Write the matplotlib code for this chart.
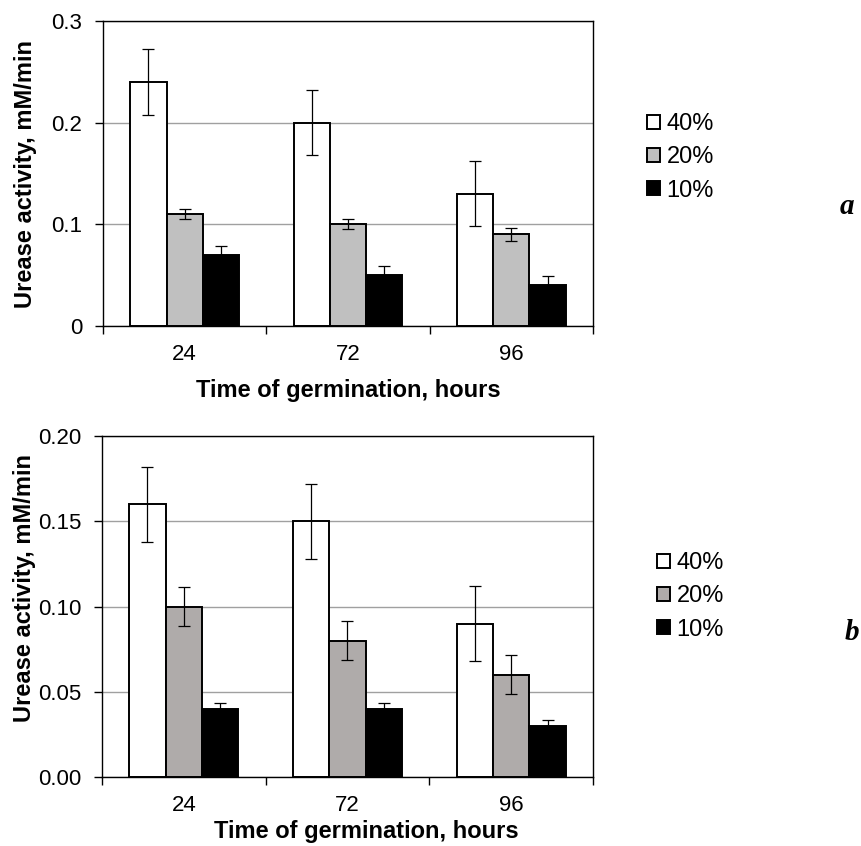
import matplotlib
matplotlib.use('Agg')
import matplotlib.pyplot as plt
import numpy as np

plt.rcParams['font.family'] = ['Liberation Sans', 'DejaVu Sans']

hours = ['24', '72', '96']
series = ['40%', '20%', '10%']

# panel a
a_vals = {'40%': [0.24, 0.20, 0.13],
          '20%': [0.11, 0.10, 0.09],
          '10%': [0.07, 0.05, 0.04]}
a_err = {'40%': [0.032, 0.032, 0.032],
         '20%': [0.005, 0.005, 0.006],
         '10%': [0.009, 0.009, 0.009]}

# panel b
b_vals = {'40%': [0.16, 0.15, 0.09],
          '20%': [0.10, 0.08, 0.06],
          '10%': [0.04, 0.04, 0.03]}
b_err = {'40%': [0.022, 0.022, 0.022],
         '20%': [0.0115, 0.0114, 0.0114],
         '10%': [0.0034, 0.0034, 0.0035]}

a_yticks = [0, 0.1, 0.2, 0.3]
a_ytick_labels = ['0', '0.1', '0.2', '0.3']
b_yticks = [0, 0.05, 0.10, 0.15, 0.20]
b_ytick_labels = ['0.00', '0.05', '0.10', '0.15', '0.20']

W, H = 862, 846
fig = plt.figure(figsize=(W / 100, H / 100), dpi=100)


def panel(rect, vals, errs, colors, yticks, ylabels, ylab_y, xlab_x, xlab_y, leg_xy, letter, letter_xy):
    ax = fig.add_axes(rect)
    x = np.arange(len(hours))
    w = 0.222
    for i, s in enumerate(series):
        ax.bar(x + (i - 1) * w, vals[s], w, color=colors[i], edgecolor='black',
               linewidth=1.4, label=s, zorder=2)
        ax.errorbar(x + (i - 1) * w, vals[s], yerr=errs[s], fmt='none', ecolor='black',
                    elinewidth=0.9, capsize=4.5, capthick=0.9, zorder=3)
    ax.set_xlim(-0.5, 2.5)
    ax.set_ylim(yticks[0], yticks[-1])
    ax.set_yticks(yticks)
    ax.set_yticklabels(ylabels)
    ax.yaxis.grid(True, color='#a0a0a0', linewidth=1.0, zorder=0)
    ax.set_axisbelow(True)
    ax.set_xticks([-0.5, 0.5, 1.5, 2.5])
    ax.set_xticklabels([])
    ax.set_xticks(x, minor=True)
    ax.set_xticklabels(hours, minor=True)
    ax.tick_params(axis='x', which='major', direction='out', length=6, width=1)
    ax.tick_params(axis='x', which='minor', length=0, pad=13, labelsize=16)
    ax.tick_params(axis='y', direction='out', length=6, width=1, pad=9, labelsize=16)
    for sp in ax.spines.values():
        sp.set_color('black')
        sp.set_linewidth(1.0)
    ax.set_ylabel('Urease activity, mM/min', fontsize=17, fontweight='bold')
    ax.yaxis.set_label_coords(-0.135, ylab_y)
    ax.set_xlabel('Time of germination, hours', fontsize=17, fontweight='bold')
    ax.xaxis.set_label_coords(xlab_x, xlab_y)
    fig.legend(*ax.get_legend_handles_labels(), loc='upper left',
               bbox_to_anchor=(leg_xy[0] / W, 1 - leg_xy[1] / H), frameon=False,
               fontsize=17, handlelength=0.55, handleheight=0.55, handletextpad=0.28,
               labelspacing=0.48, borderpad=0, borderaxespad=0)
    fig.text(letter_xy[0] / W, 1 - letter_xy[1] / H, letter, fontsize=21,
             family=['Liberation Serif', 'DejaVu Serif'], style='italic', fontweight='bold',
             ha='center', va='center')
    return ax


panel([103 / W, 1 - 326 / H, 490 / W, 305 / H], a_vals, a_err,
      ['white', '#c0c0c0', 'black'], a_yticks, a_ytick_labels,
      0.5, 0.5, -0.175, (647, 113), 'a', (847, 206))
panel([102 / W, 1 - 777 / H, 491 / W, 341 / H], b_vals, b_err,
      ['white', '#afabaa', 'black'], b_yticks, b_ytick_labels,
      0.554, 0.538, -0.125, (657, 552), 'b', (852, 632))

fig.savefig('out.png', dpi=100)
